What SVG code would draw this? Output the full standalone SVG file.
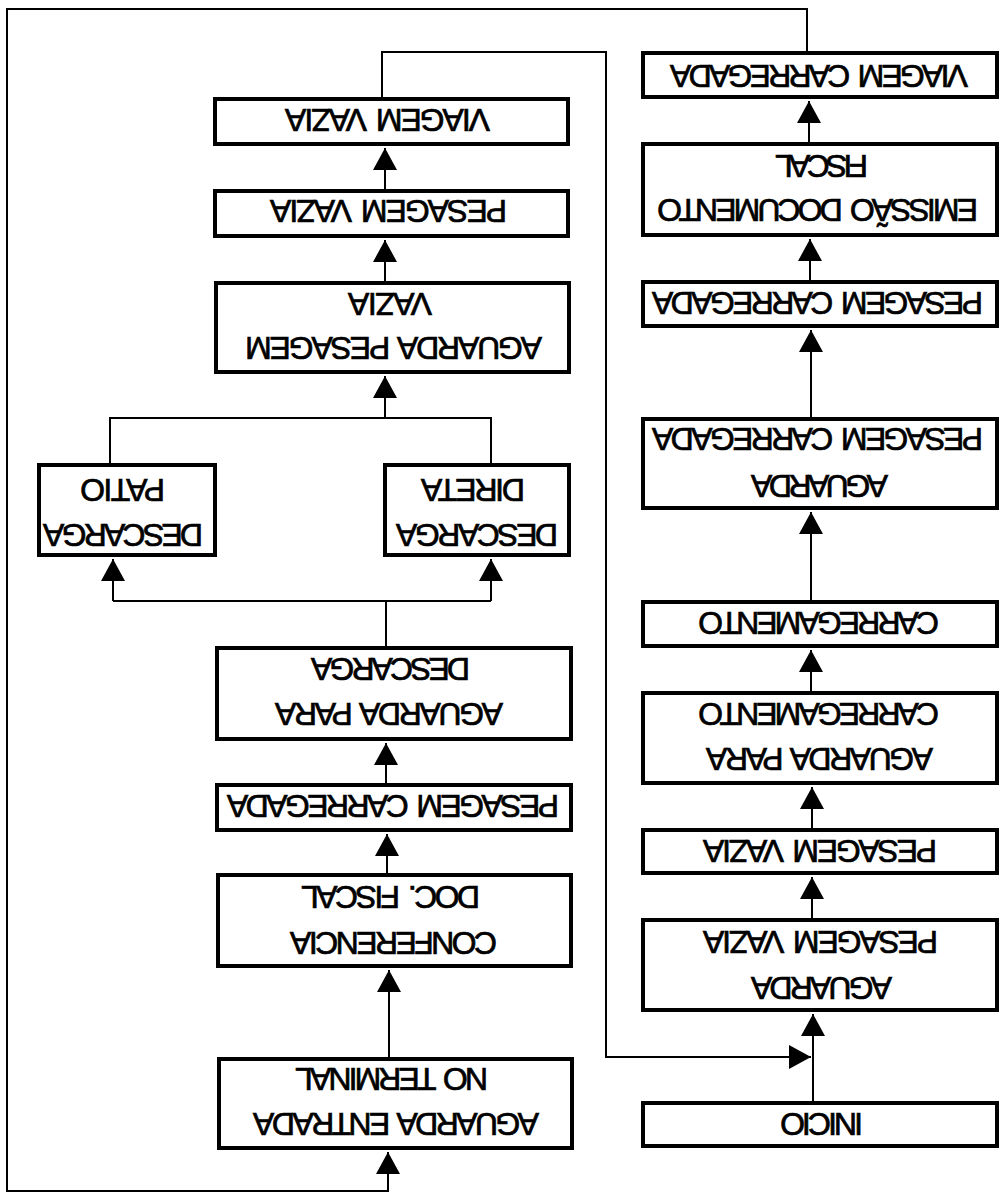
<svg xmlns="http://www.w3.org/2000/svg" width="1001" height="1194" viewBox="0 0 1001 1194">
<defs>
<style>
.box{fill:#fff;stroke:#000;stroke-width:4}
.ln{fill:none;stroke:#000;stroke-width:2}
.t{font-family:"Liberation Sans",Arial,sans-serif;font-size:32px;letter-spacing:-2px;word-spacing:4px;fill:#000;stroke:#000;stroke-width:0.7;text-anchor:middle}
</style>
<marker id="ah" viewBox="0 0 22 24" refX="22" refY="12" markerWidth="22" markerHeight="24" orient="auto" markerUnits="userSpaceOnUse"><path d="M0,0 L22,12 L0,24 z" fill="#000"/></marker>
</defs>
<rect width="1001" height="1194" fill="#fff"/>
<g id="connectors">
<path class="ln" d="M385,189 V148" marker-end="url(#ah)"/>
<path class="ln" d="M385,281 V240" marker-end="url(#ah)"/>
<path class="ln" d="M491,463 V418 H110 V463"/>
<path class="ln" d="M385,418 V376" marker-end="url(#ah)"/>
<path class="ln" d="M386,646 V601"/>
<path class="ln" d="M113,601 H491"/>
<path class="ln" d="M113,601 V559" marker-end="url(#ah)"/>
<path class="ln" d="M491,601 V559" marker-end="url(#ah)"/>
<path class="ln" d="M386,783 V743" marker-end="url(#ah)"/>
<path class="ln" d="M387,873 V834" marker-end="url(#ah)"/>
<path class="ln" d="M389,1057 V970" marker-end="url(#ah)"/>
<path class="ln" d="M807,51 V9 H7 V1191 H388 V1152" marker-end="url(#ah)"/>
<path class="ln" d="M382,97 V52 H606 V1057 H811" marker-end="url(#ah)"/>
<path class="ln" d="M809,142 V101" marker-end="url(#ah)"/>
<path class="ln" d="M810,280 V239" marker-end="url(#ah)"/>
<path class="ln" d="M811,417 V330" marker-end="url(#ah)"/>
<path class="ln" d="M811,600 V512" marker-end="url(#ah)"/>
<path class="ln" d="M811,691 V650" marker-end="url(#ah)"/>
<path class="ln" d="M812,828 V787" marker-end="url(#ah)"/>
<path class="ln" d="M812,918 V877" marker-end="url(#ah)"/>
<path class="ln" d="M813,1101 V1014" marker-end="url(#ah)"/>
</g>
<g id="viagem-vazia"><rect class="box" x="215" y="99" width="353" height="45"/>
<text class="t" transform="translate(388.5,109) rotate(180)" textLength="203" lengthAdjust="spacing">VIAGEM VAZIA</text></g>
<g id="pesagem-vazia-2"><rect class="box" x="215" y="191" width="353" height="45"/>
<text class="t" transform="translate(389.5,200) rotate(180)" textLength="235" lengthAdjust="spacing">PESAGEM VAZIA</text></g>
<g id="aguarda-pesagem-vazia-2"><rect class="box" x="216" y="283" width="353" height="89"/>
<text class="t" transform="translate(394.5,337) rotate(180)" textLength="295" lengthAdjust="spacing">AGUARDA PESAGEM</text>
<text class="t" transform="translate(391,293) rotate(180)" textLength="82" lengthAdjust="spacing">VAZIA</text></g>
<g id="descarga-patio"><rect class="box" x="39" y="465" width="176" height="90"/>
<text class="t" transform="translate(124,524) rotate(180)" textLength="158" lengthAdjust="spacing">DESCARGA</text>
<text class="t" transform="translate(123.5,479) rotate(180)" textLength="83" lengthAdjust="spacing">PATIO</text></g>
<g id="descarga-direta"><rect class="box" x="385" y="465" width="184" height="90"/>
<text class="t" transform="translate(478,524) rotate(180)" textLength="160" lengthAdjust="spacing">DESCARGA</text>
<text class="t" transform="translate(474,479) rotate(180)" textLength="102" lengthAdjust="spacing">DIRETA</text></g>
<g id="aguarda-para-descarga"><rect class="box" x="217" y="648" width="354" height="91"/>
<text class="t" transform="translate(390,703) rotate(180)" textLength="226" lengthAdjust="spacing">AGUARDA PARA</text>
<text class="t" transform="translate(391.5,658) rotate(180)" textLength="157" lengthAdjust="spacing">DESCARGA</text></g>
<g id="pesagem-carregada-2"><rect class="box" x="217" y="785" width="354" height="45"/>
<text class="t" transform="translate(394,795) rotate(180)" textLength="330" lengthAdjust="spacing">PESAGEM CARREGADA</text></g>
<g id="conferencia"><rect class="box" x="218" y="875" width="353" height="91"/>
<text class="t" transform="translate(394.5,932) rotate(180)" textLength="205" lengthAdjust="spacing">CONFERENCIA</text>
<text class="t" transform="translate(391.5,886) rotate(180)" textLength="177" lengthAdjust="spacing">DOC. FISCAL</text></g>
<g id="aguarda-entrada"><rect class="box" x="219" y="1059" width="353" height="89"/>
<text class="t" transform="translate(397,1113) rotate(180)" textLength="284" lengthAdjust="spacing">AGUARDA ENTRADA</text>
<text class="t" transform="translate(392.5,1068) rotate(180)" textLength="191" lengthAdjust="spacing">NO TERMINAL</text></g>
<g id="viagem-carregada"><rect class="box" x="643" y="53" width="354" height="44"/>
<text class="t" transform="translate(820,65) rotate(180)" textLength="296" lengthAdjust="spacing">VIAGEM CARREGADA</text></g>
<g id="emissao"><rect class="box" x="643" y="144" width="354" height="91"/>
<text class="t" transform="translate(818.5,199) rotate(180)" textLength="319" lengthAdjust="spacing">EMISSÃO DOCUMENTO</text>
<text class="t" transform="translate(822.5,155) rotate(180)" textLength="91" lengthAdjust="spacing">FISCAL</text></g>
<g id="pesagem-carregada-1"><rect class="box" x="643" y="282" width="354" height="44"/>
<text class="t" transform="translate(818.5,292) rotate(180)" textLength="329" lengthAdjust="spacing">PESAGEM CARREGADA</text></g>
<g id="aguarda-pesagem-carregada"><rect class="box" x="643" y="419" width="354" height="89"/>
<text class="t" transform="translate(820.5,475) rotate(180)" textLength="135" lengthAdjust="spacing">AGUARDA</text>
<text class="t" transform="translate(818.5,428) rotate(180)" textLength="329" lengthAdjust="spacing">PESAGEM CARREGADA</text></g>
<g id="carregamento"><rect class="box" x="643" y="602" width="354" height="44"/>
<text class="t" transform="translate(819.5,612) rotate(180)" textLength="239" lengthAdjust="spacing">CARREGAMENTO</text></g>
<g id="aguarda-para-carregamento"><rect class="box" x="643" y="693" width="354" height="90"/>
<text class="t" transform="translate(820.5,748) rotate(180)" textLength="225" lengthAdjust="spacing">AGUARDA PARA</text>
<text class="t" transform="translate(819.5,703) rotate(180)" textLength="239" lengthAdjust="spacing">CARREGAMENTO</text></g>
<g id="pesagem-vazia-1"><rect class="box" x="643" y="830" width="354" height="43"/>
<text class="t" transform="translate(821,840) rotate(180)" textLength="232" lengthAdjust="spacing">PESAGEM VAZIA</text></g>
<g id="aguarda-pesagem-vazia-1"><rect class="box" x="643" y="920" width="354" height="90"/>
<text class="t" transform="translate(822.5,977) rotate(180)" textLength="139" lengthAdjust="spacing">AGUARDA</text>
<text class="t" transform="translate(821.5,931) rotate(180)" textLength="233" lengthAdjust="spacing">PESAGEM VAZIA</text></g>
<g id="inicio"><rect class="box" x="643" y="1103" width="354" height="43"/>
<text class="t" transform="translate(822.5,1113) rotate(180)" textLength="81" lengthAdjust="spacing">INICIO</text></g>
</svg>
